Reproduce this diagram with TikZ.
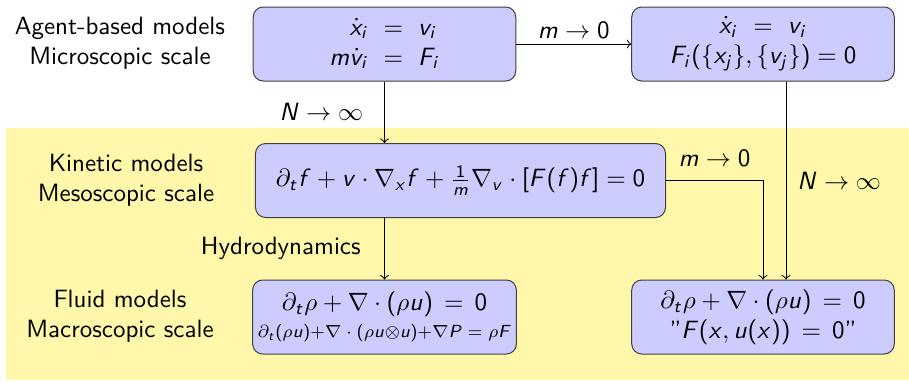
\documentclass[tikz,border=0pt]{standalone}
\usepackage{amsmath}
\renewcommand{\familydefault}{\sfdefault}
% sans serif letters and digits in math, as on a slide
\makeatletter
\DeclareSymbolFont{sfletters}{OT1}{cmss}{m}{sl}
\SetSymbolFont{operators}{normal}{OT1}{cmss}{m}{n}
\@tfor\@sfl:=abcdefghijklmnopqrstuvwxyzABCDEFGHIJKLMNOPQRSTUVWXYZ\do{%
  \edef\@sfdo{\noexpand\DeclareMathSymbol{\@sfl}{\noexpand\mathalpha}{sfletters}{`\@sfl}}\@sfdo}
\makeatother
\definecolor{bgyellow}{RGB}{255,247,170}
\tikzset{
  model/.style={draw=black!75, fill=blue!20, rounded corners=4pt,
    minimum width=105pt, minimum height=29.6pt, align=center, inner sep=2pt},
  scaletext/.style={align=center}
}
\begin{document}
\begin{tikzpicture}[x=0.4pt,y=-0.4pt]
        \useasboundingbox (0,0) rectangle (909,382);
        \fill[bgyellow] (6,128) rectangle (909,380);
        % scales
        \node[scaletext] (agentlab) at (120,43) {Agent-based models\\Microscopic scale};
        \node[scaletext] (kineticlab) at (126,180) {Kinetic models\\Mesoscopic scale};
        \node[scaletext] (fluidlab) at (120,316) {Fluid models\\Macroscopic scale};
        % models
        \node[model] (agent) at (384.5,44) {$\arraycolsep=3pt\begin{array}{rcl}\dot{x}_i & = & v_i\\ m\dot{v}_i & = & F_i\end{array}$};
        \node[model] (agentlim) at (763,44) {$\dot{x}_i \ = \ v_i$\\$F_i(\{x_j\},\{v_j\}) = 0$};
        \node[model, minimum width=164pt] (kinetic) at (460.5,180.5) {$\partial_t f + v\cdot\nabla_x f + \frac{1}{m}\nabla_v\cdot[F(f)f] = 0$};
        \node[model] (fluid) at (384.5,317) {$\partial_t\rho + \nabla\cdot(\rho u) \,=\, 0$\\[-1pt]{\scriptsize$\partial_t(\rho u){+}\nabla\cdot(\rho u{\otimes}u){+}\nabla P = \rho F$}};
        \node[model] (fluidlim) at (763,317) {$\partial_t\rho + \nabla\cdot(\rho u) \,=\, 0$\\"$F(x,u(x)) \,=\, 0$''};
        % limits
        \draw[->] (agent) -- node[above, inner sep=2pt] {$m\to 0$} (agentlim);
        \draw[->] (agent.south) -- node[left=5pt] {$N\to\infty$} (agent.south |- kinetic.north);
        \draw[->] (kinetic.south -| fluid.north) -- node[left=6pt] {Hydrodynamics} (fluid.north);
        \draw[->] (kinetic.east) -| node[pos=0.25, above=2pt] {$m\to 0$} (fluidlim.north);
        \draw[->] ([xshift=9.2pt]agentlim.south) -- node[right=1pt] {$N\to\infty$} ([xshift=9.2pt]fluidlim.north);
    \end{tikzpicture}
\end{document}
